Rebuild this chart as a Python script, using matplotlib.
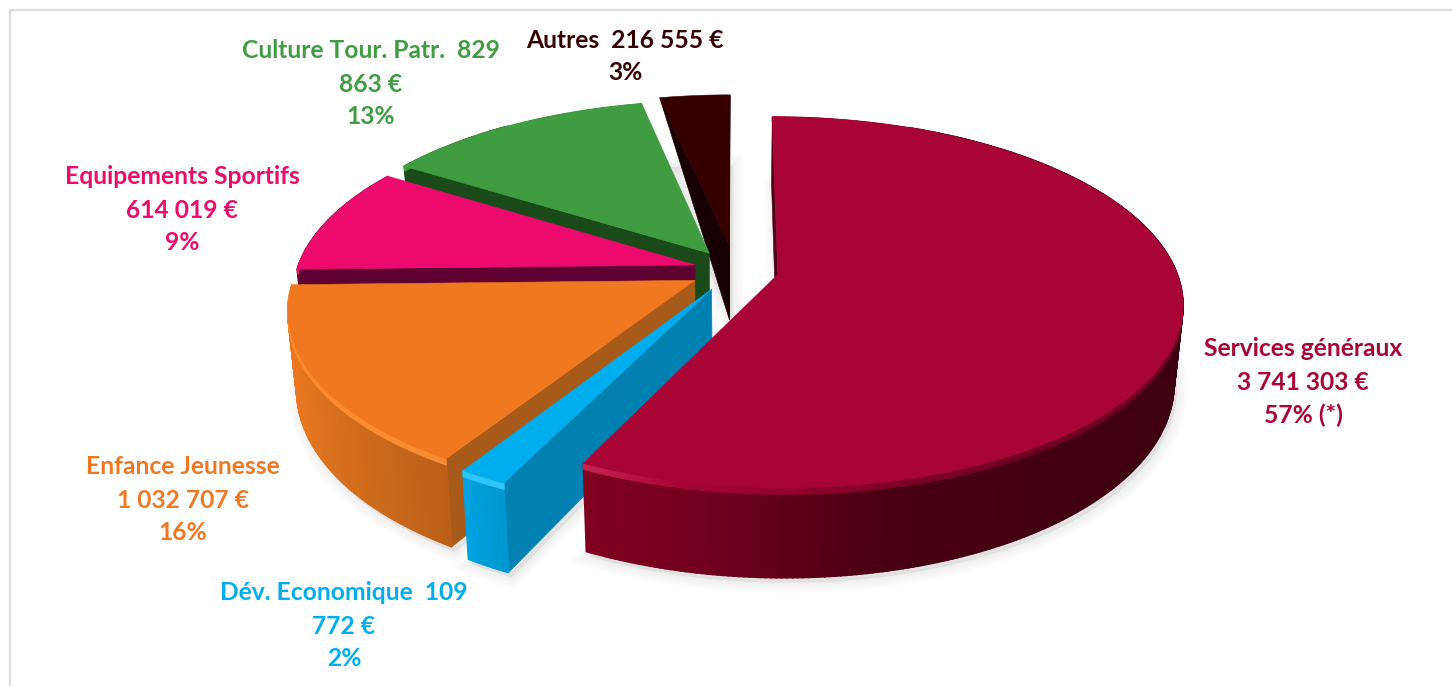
import numpy as np
import matplotlib
matplotlib.use("Agg")
import matplotlib.pyplot as plt
from matplotlib.patches import Polygon
from matplotlib.colors import to_rgb

plt.rcParams['font.family'] = ['Lato', 'DejaVu Sans']

# ---- data ----
categories = ["Services généraux", "Dév. Economique", "Enfance Jeunesse",
              "Equipements Sportifs", "Culture Tour. Patr.", "Autres"]
values = [3741303, 109772, 1032707, 614019, 829863, 216555]
label_lines = [
    ["Services généraux", "3 741 303 €", "57% (*)"],
    ["Dév. Economique  109", "772 €", "2%"],
    ["Enfance Jeunesse", "1 032 707 €", "16%"],
    ["Equipements Sportifs", "614 019 €", "9%"],
    ["Culture Tour. Patr.  829", "863 €", "13%"],
    ["Autres  216 555 €", "3%"],
]

# ---- styles ----
explode = [0.11, 0.12, 0.115, 0.105, 0.115, 0.14]
top_colors = ["#a80435", "#00aeef", "#f07820", "#ec0a6e", "#3f9c40", "#360000"]
cut_colors = ["#50001a", "#0081b2", "#a85a18", "#5e0030", "#1a4a1a", "#190000"]
wall_stops = [
    [(587, "#80001f"), (700, "#72001e"), (800, "#5c0016"), (900, "#480012"), (1180, "#3e0010")],
    [(460, "#00a4e2"), (510, "#0094cc")],
    [(288, "#ec7820"), (320, "#dc721e"), (360, "#cf6b1b"), (450, "#bb5f19")],
    [(290, "#5e0030"), (400, "#5e0030")],
    [(400, "#1a4a1a"), (700, "#1a4a1a")],
    [(660, "#190000"), (730, "#190000")],
]
rim_stops = [
    [(587, "#c42450"), (680, "#a80435"), (850, "#860228"), (1000, "#700024"), (1180, "#6c0022")],
    [(460, "#30c4f8"), (510, "#30c4f8")],
    [(288, "#ff8c2c"), (450, "#f88c34")],
    [(290, "#ec0a6e"), (400, "#ec0a6e")],
    [(400, "#3f9c40"), (700, "#3f9c40")],
    [(660, "#360000"), (730, "#360000")],
]
tapered = [False, False, False, False, False, True]
label_x = [1303, 344, 183, 182, 371, 625]
label_y = [349, 593, 467, 177, 51, 40]
line_gap = 33
font_px = 24.6

# projection
CX, CY = 735, 270
A, B, P, H, SHRINK = 398, 180, 0.15, 76, 0.02


def proj(X, Y, z=0.0):
    s = 1.0 / (1.0 + P * Y)
    return CX + A * X * s * (1 - SHRINK * z), CY - B * Y * s + H * z * s


def stop_color(stops, x):
    xs = [p[0] for p in stops]
    cols = np.array([to_rgb(p[1]) for p in stops])
    return tuple(np.interp(x, xs, cols[:, i]) for i in range(3))


fig = plt.figure(figsize=(14.52, 6.86), dpi=100, facecolor="white")
ax = fig.add_axes([0, 0, 1, 1])
ax.set_xlim(0, 1452)
ax.set_ylim(686, 0)
ax.axis("off")

ax.plot([10, 10, 1452], [686, 10, 10], color="#dcdcdc", lw=1.5, solid_joinstyle="miter")

fracs = np.array(values, dtype=float) / sum(values)
edges = np.concatenate([[0], np.cumsum(fracs)]) * 2 * np.pi


def fill(pts, color, lw=0.4):
    ax.add_patch(Polygon(pts, closed=True, facecolor=color, edgecolor=color, lw=lw))


geom = []
for i in range(len(values)):
    a0, a1 = edges[i], edges[i + 1]
    mid = (a0 + a1) / 2
    ox, oy = explode[i] * np.sin(mid), explode[i] * np.cos(mid)
    th = np.linspace(a0, a1, max(int(np.degrees(a1 - a0) * 1.5), 3))
    X = ox + np.sin(th)
    Y = oy + np.cos(th)
    geom.append((ox, oy, X, Y))

# soft shadows
for i, (ox, oy, X, Y) in enumerate(geom):
    bx, by = proj(np.r_[ox, X], np.r_[oy, Y], 1.0)
    pts = np.c_[bx + 3, by + 5]
    for w in range(2, 17, 2):
        ax.add_patch(Polygon(pts, closed=True, facecolor=(0, 0, 0, 0.007),
                             edgecolor=(0, 0, 0, 0.007), lw=w))

# back-to-front wedge order
order = [5, 4, 3, 2, 1, 0]
for i in order:
    ox, oy, X, Y = geom[i]
    ends = [(X[0], Y[0], -1), (X[-1], Y[-1], 1)]
    for ex, ey, sign in ends:
        q = [proj(ox, oy, 0), proj(ex, ey, 0), proj(ex, ey, 1), proj(ox, oy, 1)]
        arr = np.array(q)
        area = np.sum(arr[:, 0] * np.roll(arr[:, 1], -1) - np.roll(arr[:, 0], -1) * arr[:, 1])
        if area * sign > 0:
            if tapered[i]:
                q = [q[0], q[1], q[3]]
            fill(q, cut_colors[i])
    # outer wall, then a thin lighter rim along its top edge
    seg = np.argsort(-(Y[:-1] + Y[1:]))
    for j in seg:
        x0, y0 = proj(X[j], Y[j], 0)
        x1, y1 = proj(X[j + 1], Y[j + 1], 0)
        x2, y2 = proj(X[j + 1], Y[j + 1], 1)
        x3, y3 = proj(X[j], Y[j], 1)
        if Y[j] < 0.9 and not tapered[i]:
            fill([(x0, y0), (x1, y1), (x2, y2), (x3, y3)],
                 stop_color(wall_stops[i], (x0 + x1) / 2), lw=1.2)
    if i != 5:
        for j in seg:
            x0, y0 = proj(X[j], Y[j], 0)
            x1, y1 = proj(X[j + 1], Y[j + 1], 0)
            x2, y2 = proj(X[j + 1], Y[j + 1], 0.07)
            x3, y3 = proj(X[j], Y[j], 0.07)
            fill([(x0, y0), (x1, y1), (x2, y2), (x3, y3)],
                 stop_color(rim_stops[i], (x0 + x1) / 2), lw=0.8)
    tx, ty = proj(np.r_[ox, X], np.r_[oy, Y], 0)
    fill(np.c_[tx, ty], top_colors[i])

for i, lines in enumerate(label_lines):
    for k, line in enumerate(lines):
        ax.text(label_x[i], label_y[i] + k * line_gap, line, color=top_colors[i],
                fontsize=font_px * 72 / 100, fontweight="bold", ha="center", va="center")

fig.savefig("out.png", dpi=100, facecolor="white")
